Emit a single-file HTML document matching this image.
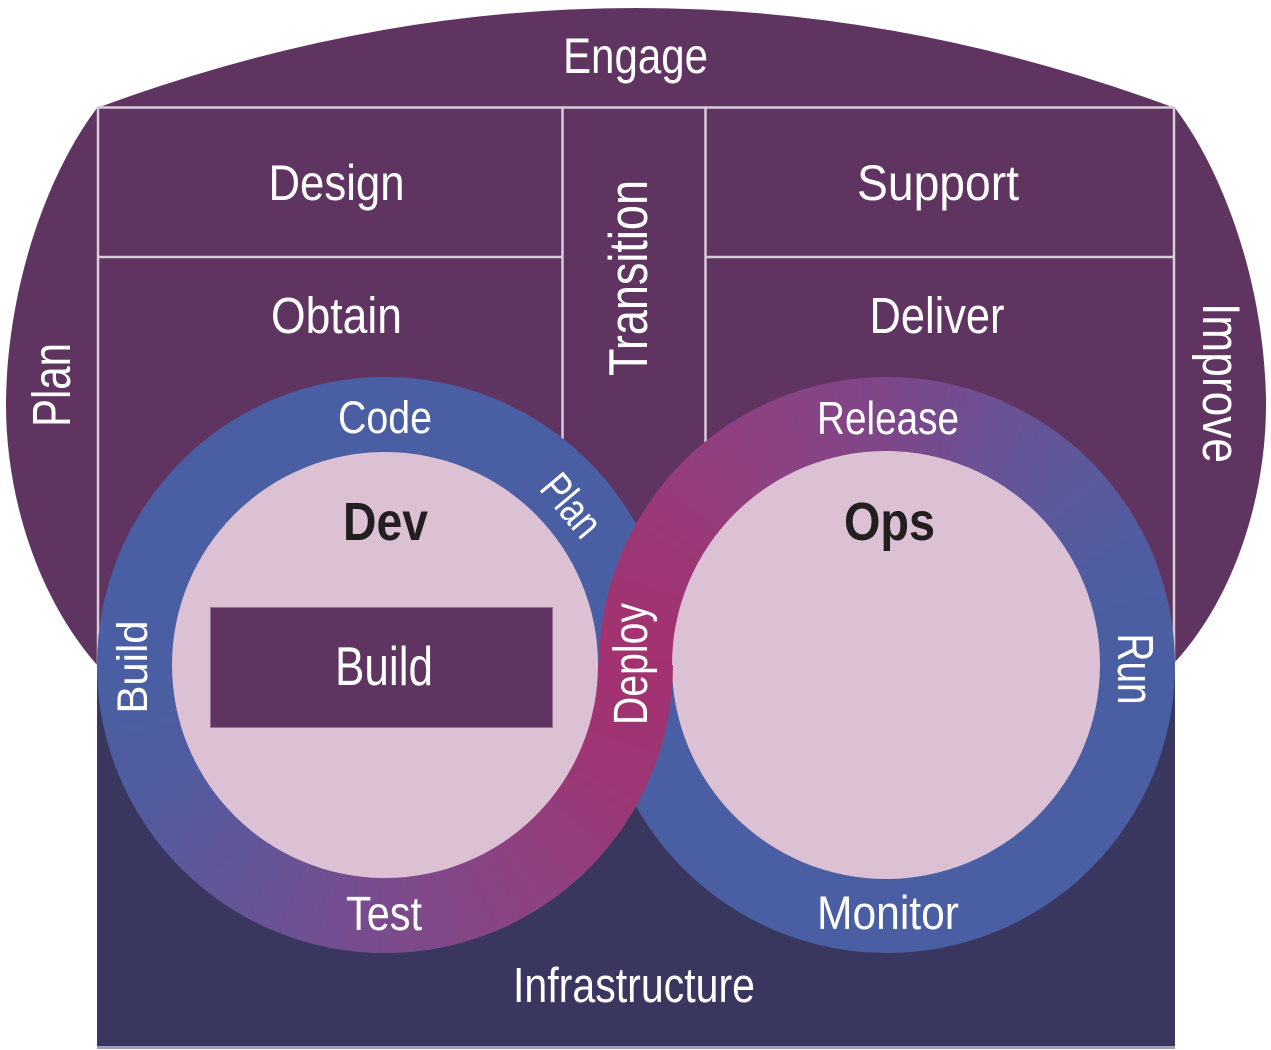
<!DOCTYPE html>
<html>
<head>
<meta charset="utf-8">
<style>
  html, body { margin:0; padding:0; background:#ffffff; }
  #root { position:relative; width:1271px; height:1050px; overflow:hidden; background:#ffffff; }
  .abs { position:absolute; left:0; top:0; }
  .disc { position:absolute; width:576px; height:576px; border-radius:50%; }
  .inner { position:absolute; left:75px; top:75px; width:426px; height:426px; border-radius:50%; background:#DCC1D4; }
  #dev { left:97px; top:377px;
    background: conic-gradient(from 0deg at 50% 50%,
      #4A5FA3 0deg, #4A5FA3 89.5deg, #A4316F 90deg, #9D3675 115deg, #8E4180 145deg,
      #7A4B8D 180deg, #625597 215deg, #525B9F 240deg, #4A5FA3 265deg, #4A5FA3 360deg); }
  #devcopy { left:97px; top:377px; clip-path: inset(288px 0 0 0);
    background: conic-gradient(from 0deg at 50% 50%,
      #4A5FA3 0deg, #4A5FA3 89.5deg, #A4316F 90deg, #9D3675 115deg, #8E4180 145deg,
      #7A4B8D 180deg, #625597 215deg, #525B9F 240deg, #4A5FA3 265deg, #4A5FA3 360deg); }
  #ops { left:599px; top:377px;
    background: conic-gradient(from 0deg at 50% 50%,
      #7E4689 0deg, #6C5093 22deg, #5C599B 45deg, #4E5DA1 68deg, #4A5FA3 90deg,
      #4A5FA3 269.5deg, #A4316F 270deg, #9D3675 295deg, #904080 325deg, #7E4689 360deg); }
  #ops .inner { left:73px; top:74px; width:428px; height:428px; }
  svg text { font-family: "Liberation Sans", Arial, sans-serif; fill:#ffffff; }
</style>
</head>
<body>
<div id="root">
  <svg class="abs" width="1271" height="1050" viewBox="0 0 1271 1050">
    <path d="M97,108 Q636,-92 1175,108 C1222,170 1264,280 1266,400 C1267,500 1232,600 1175,662 L1175,700 L97,700 L97,665 C40,600 5,500 6,400 C8,280 50,170 97,108 Z" fill="#603461"/>
    <rect x="97" y="663" width="1078" height="384" fill="#393660"/>
    <rect x="97" y="1046" width="1078" height="3" fill="#A29CBC"/>
    <g stroke="#D8CCD9" stroke-width="2.5" fill="none">
      <line x1="97" y1="107.5" x2="1175" y2="107.5"/>
      <line x1="98" y1="107" x2="98" y2="665"/>
      <line x1="562.5" y1="107" x2="562.5" y2="600"/>
      <line x1="705.5" y1="107" x2="705.5" y2="600"/>
      <line x1="1174" y1="107" x2="1174" y2="662"/>
      <line x1="98" y1="257" x2="562" y2="257"/>
      <line x1="705" y1="257" x2="1174" y2="257"/>
    </g>
  </svg>

  <div id="dev" class="disc"><div class="inner"></div></div>
  <div id="ops" class="disc"><div class="inner"></div></div>
  <div id="devcopy" class="disc"><div class="inner"></div></div>

  <svg class="abs" width="1271" height="1050" viewBox="0 0 1271 1050">
    <rect x="210.5" y="607.5" width="342" height="120" fill="#603461" stroke="#9C6E9A" stroke-width="1"/>

    <text x="635.5" y="73" font-size="50" text-anchor="middle" textLength="145" lengthAdjust="spacingAndGlyphs">Engage</text>
    <text x="336.5" y="200" font-size="50" text-anchor="middle" textLength="136" lengthAdjust="spacingAndGlyphs">Design</text>
    <text x="336.5" y="333" font-size="51" text-anchor="middle" textLength="131" lengthAdjust="spacingAndGlyphs">Obtain</text>
    <text x="938" y="200" font-size="50" text-anchor="middle" textLength="162" lengthAdjust="spacingAndGlyphs">Support</text>
    <text x="937" y="333" font-size="51" text-anchor="middle" textLength="135" lengthAdjust="spacingAndGlyphs">Deliver</text>

    <text x="647" y="278" font-size="55" text-anchor="middle" textLength="196" lengthAdjust="spacingAndGlyphs" transform="rotate(-90 647 278)">Transition</text>
    <text x="70" y="385" font-size="54" text-anchor="middle" textLength="84" lengthAdjust="spacingAndGlyphs" transform="rotate(-90 70 385)">Plan</text>
    <text x="1203" y="383" font-size="53" text-anchor="middle" textLength="160" lengthAdjust="spacingAndGlyphs" transform="rotate(90 1203 383)">Improve</text>

    <text x="385" y="433" font-size="45" text-anchor="middle" textLength="94" lengthAdjust="spacingAndGlyphs">Code</text>
    <text x="560" y="515" font-size="44" text-anchor="middle" textLength="68" lengthAdjust="spacingAndGlyphs" transform="rotate(50 560 515)">Plan</text>
    <text x="385.5" y="540" font-size="54" font-weight="bold" text-anchor="middle" textLength="85" lengthAdjust="spacingAndGlyphs" style="fill:#231F20">Dev</text>
    <text x="384" y="685" font-size="55" text-anchor="middle" textLength="98" lengthAdjust="spacingAndGlyphs">Build</text>
    <text x="147" y="667" font-size="43" text-anchor="middle" textLength="93" lengthAdjust="spacingAndGlyphs" transform="rotate(-90 147 667)">Build</text>
    <text x="647" y="664" font-size="48" text-anchor="middle" textLength="122" lengthAdjust="spacingAndGlyphs" transform="rotate(-90 647 664)">Deploy</text>
    <text x="384" y="930" font-size="48" text-anchor="middle" textLength="76" lengthAdjust="spacingAndGlyphs">Test</text>

    <text x="888" y="434" font-size="46" text-anchor="middle" textLength="142" lengthAdjust="spacingAndGlyphs">Release</text>
    <text x="889.5" y="540" font-size="54" font-weight="bold" text-anchor="middle" textLength="91" lengthAdjust="spacingAndGlyphs" style="fill:#231F20">Ops</text>
    <text x="1118" y="669" font-size="51" text-anchor="middle" textLength="71" lengthAdjust="spacingAndGlyphs" transform="rotate(90 1118 669)">Run</text>
    <text x="888" y="929" font-size="47" text-anchor="middle" textLength="142" lengthAdjust="spacingAndGlyphs">Monitor</text>

    <text x="634" y="1002" font-size="49" text-anchor="middle" textLength="242" lengthAdjust="spacingAndGlyphs">Infrastructure</text>
  </svg>
</div>
</body>
</html>
